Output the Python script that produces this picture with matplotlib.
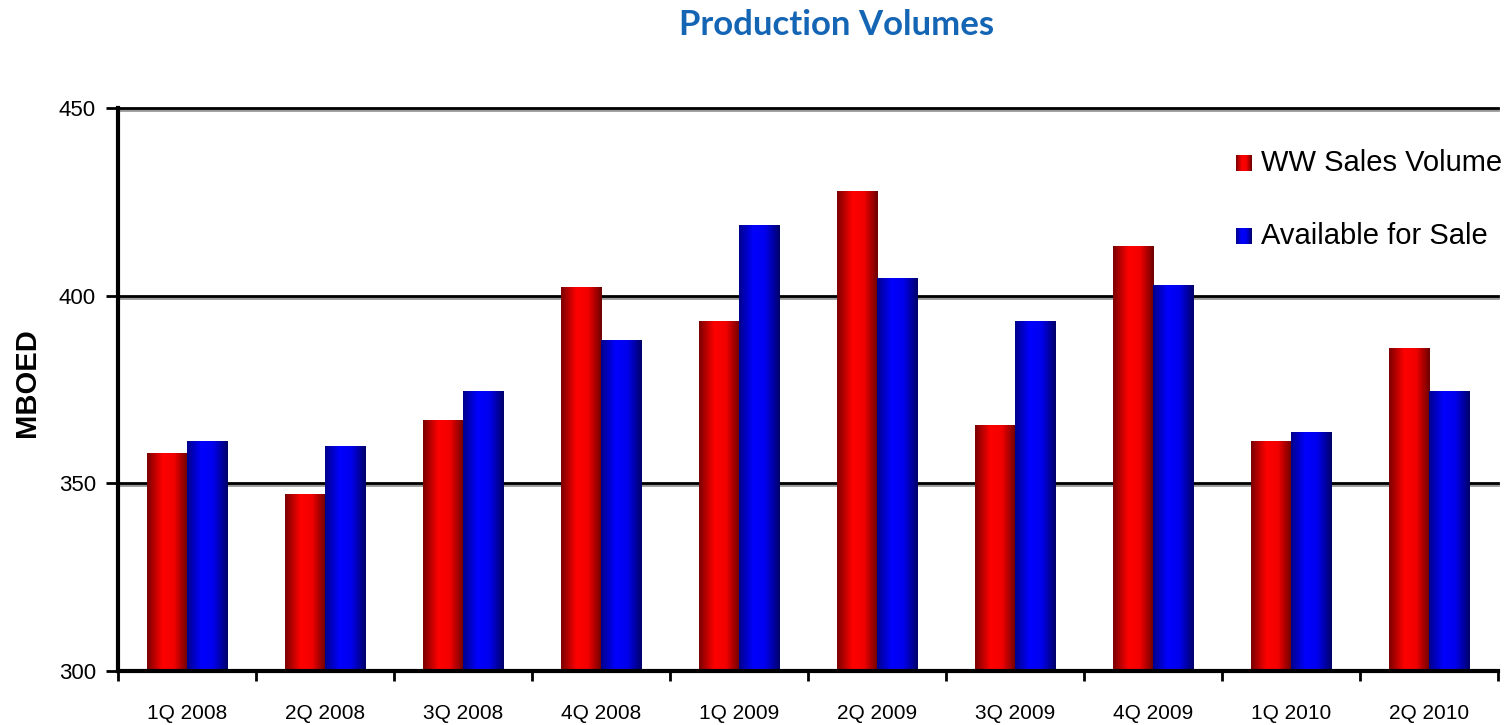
import numpy as np
import matplotlib
matplotlib.use("Agg")
import matplotlib.pyplot as plt
import matplotlib.patheffects as pe
from matplotlib.colors import LinearSegmentedColormap

categories = ["1Q 2008", "2Q 2008", "3Q 2008", "4Q 2008", "1Q 2009",
              "2Q 2009", "3Q 2009", "4Q 2009", "1Q 2010", "2Q 2010"]
ww_sales = [358.1, 347.1, 366.9, 402.3, 393.2, 427.9, 365.5, 413.2, 361.3, 386.0]
available = [361.3, 359.9, 374.6, 388.2, 418.8, 404.7, 393.2, 402.8, 363.7, 374.6]
series_names = ["WW Sales Volume", "Available for Sale"]
y_ticks = [300, 350, 400, 450]

plt.rcParams['font.family'] = ['Liberation Sans', 'DejaVu Sans']

fig = plt.figure(figsize=(15.09, 7.25), dpi=100)
ax = fig.add_axes([118/1509, 54/725, (1498-118)/1509, (671-108)/725])

x = np.arange(len(categories))
w = 0.29
base = y_ticks[0]

red_cmap = LinearSegmentedColormap.from_list(
    "r", [(0, "#7a0000"), (0.38, "#ff0000"), (0.66, "#f20000"), (1, "#6a0000")])
blue_cmap = LinearSegmentedColormap.from_list(
    "b", [(0, "#00008a"), (0.36, "#0000ff"), (0.64, "#0000ee"), (1, "#000068")])
grad = np.linspace(0, 1, 256).reshape(1, -1)

def gradient_bars(bars, cmap):
    for b in bars:
        x0, y0 = b.get_x(), b.get_y()
        im = ax.imshow(grad, extent=[x0, x0 + b.get_width(), y0, y0 + b.get_height()],
                       aspect='auto', cmap=cmap, zorder=3, interpolation='bicubic')
        im.set_clip_path(b)

bars_r = ax.bar(x - w/2, np.array(ww_sales) - base, w, bottom=base,
                color="#ff0000", zorder=2, linewidth=0)
bars_b = ax.bar(x + w/2, np.array(available) - base, w, bottom=base,
                color="#0000ff", zorder=2, linewidth=0)
gradient_bars(bars_r, red_cmap)
gradient_bars(bars_b, blue_cmap)

ax.set_xlim(-0.5, len(categories) - 0.5)
ax.set_ylim(300, 450)

for yv in y_ticks[1:]:
    ax.axhline(yv, color='black', lw=2, zorder=1, clip_on=False,
               path_effects=[pe.SimpleLineShadow(offset=(0, -1.5), shadow_color='#808080', alpha=0.8),
                             pe.Normal()])

ax.set_yticks(y_ticks)
ax.set_yticklabels([str(v) for v in y_ticks], fontsize=16)
ax.set_xticks(x)
ax.set_xticklabels(categories, fontsize=15)
ax.set_xticks(np.arange(-0.5, len(categories) + 0.5, 1), minor=True)
ax.tick_params(axis='x', which='major', length=0, pad=24)
ax.tick_params(axis='x', which='minor', length=7, width=2, direction='out')
ax.tick_params(axis='y', length=9, width=2, direction='out', pad=7)

for s in ['top', 'right']:
    ax.spines[s].set_visible(False)
for s in ['left', 'bottom']:
    ax.spines[s].set_linewidth(3)
    ax.spines[s].set_zorder(5)

fig.text(27/1509, 1 - 383/725, "MBOED", rotation=90, ha='center', va='center',
         fontsize=21, fontweight='bold')

fig.text(837/1509, 1 - 25/725, "Production Volumes", ha='center', va='center',
         fontsize=25, fontweight='bold', color='#1565b5', family=['Lato', 'DejaVu Sans'])

# legend
for i, (name, cm) in enumerate(zip(series_names, [red_cmap, blue_cmap])):
    yc = 1 - (163 + i * 73) / 725
    lax = fig.add_axes([1236/1509, yc - 8/725, 16/1509, 16/725])
    lax.imshow(grad, aspect='auto', cmap=cm)
    lax.axis('off')
    fig.text(1261/1509, yc, name, ha='left', va='center', fontsize=21)

fig.savefig("out.png", dpi=100)
